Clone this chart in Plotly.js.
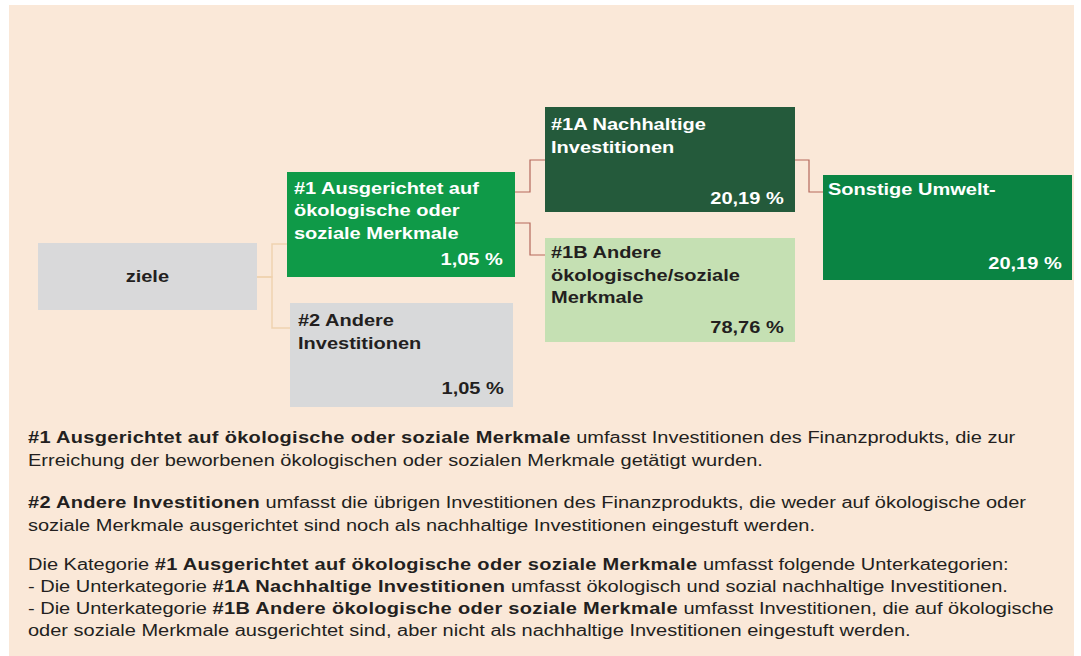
<!DOCTYPE html>
<html>
<head>
<meta charset="utf-8">
<script src="https://cdn.plot.ly/plotly-3.0.1.min.js"></script>
<style>
html,body{margin:0;padding:0;background:#ffffff;}
#chart{width:1081px;height:656px;}
</style>
</head>
<body>
<div id="chart"></div>
<script>
// ---------------- data ----------------
const nodeIds = ["root", "n1", "n2", "n1A", "n1B", "nSonst"];
const nodeLabels = [
  ["ziele"],
  ["#1 Ausgerichtet auf", "ökologische oder", "soziale Merkmale"],
  ["#2 Andere", "Investitionen"],
  ["#1A Nachhaltige", "Investitionen"],
  ["#1B Andere", "ökologische/soziale", "Merkmale"],
  ["Sonstige Umwelt-"]
];
const nodeShares = [null, 1.05, 1.05, 20.19, 78.76, 20.19];
const edgeFrom = ["root", "root", "n1", "n1", "n1A"];
const edgeTo   = ["n1", "n2", "n1A", "n1B", "nSonst"];
const noteLines = [
  "<b>#1 Ausgerichtet auf ökologische oder soziale Merkmale</b> umfasst Investitionen des Finanzprodukts, die zur",
  "Erreichung der beworbenen ökologischen oder sozialen Merkmale getätigt wurden.",
  "<b>#2 Andere Investitionen</b> umfasst die übrigen Investitionen des Finanzprodukts, die weder auf ökologische oder",
  "soziale Merkmale ausgerichtet sind noch als nachhaltige Investitionen eingestuft werden.",
  "Die Kategorie <b>#1 Ausgerichtet auf ökologische oder soziale Merkmale</b> umfasst folgende Unterkategorien:",
  "- Die Unterkategorie <b>#1A Nachhaltige Investitionen</b> umfasst ökologisch und sozial nachhaltige Investitionen.",
  "- Die Unterkategorie <b>#1B Andere ökologische oder soziale Merkmale</b> umfasst Investitionen, die auf ökologische",
  "oder soziale Merkmale ausgerichtet sind, aber nicht als nachhaltige Investitionen eingestuft werden."
];

// ---------------- layout geometry & styles ----------------
const FONT = 'Arial, "Liberation Sans", sans-serif';
const SX = 1.25;           // horizontal stretch of the source artwork
const DARK = "#231f20";
const geom = {
  root:   {x0: 38,  x1: 257,  y0: 243, y1: 310, fill: "#d9d9da", ink: DARK, center: true, tx: 147, base: 282, step: 22.5},
  n1:     {x0: 287, x1: 515,  y0: 172, y1: 277, fill: "#0f9a48", ink: "#ffffff", tx: 293,   base: 193.5, step: 22.5, px: 504,  pb: 265},
  n2:     {x0: 290, x1: 513,  y0: 303, y1: 407, fill: "#d8d9da", ink: DARK,      tx: 296.5, base: 326,   step: 22.5, px: 505,  pb: 393.5},
  n1A:    {x0: 545, x1: 795,  y0: 107, y1: 212, fill: "#245a3b", ink: "#ffffff", tx: 550,   base: 130,   step: 22.5, px: 785,  pb: 203.5},
  n1B:    {x0: 545, x1: 795,  y0: 238, y1: 342, fill: "#c5e0b3", ink: DARK,      tx: 550,   base: 258,   step: 22.7, px: 785,  pb: 332.5},
  nSonst: {x0: 823, x1: 1072, y0: 175, y1: 280, fill: "#0a8443", ink: "#ffffff", tx: 826.5, base: 195,   step: 22.5, px: 1063, pb: 268.5}
};
const edgeGeom = [
  {yA: 277, bus: 272, yB: 244, color: "#efd2b0", w: 1.5},
  {yA: 277, bus: 272, yB: 328, color: "#efd2b0", w: 1.5},
  {yA: 192, bus: 530, yB: 160, color: "#b5685b", w: 1.2},
  {yA: 223, bus: 530, yB: 255, color: "#b5685b", w: 1.2},
  {yA: 160, bus: 809, yB: 192, color: "#b5685b", w: 1.2}
];
const noteX = 27;
const noteBase = [443, 465.5, 508, 530.5, 570, 592, 613.5, 635.5];
const BASE_TO_MID = 5.5;   // baseline -> bbox middle for 16px text

function fmtPct(v) { return v.toFixed(2).replace(".", ",") + " %"; }

const shapes = [];
const annotations = [];

// background panel
shapes.push({type: "rect", xref: "x", yref: "y", x0: 9, x1: 1074, y0: 5, y1: 656,
  fillcolor: "#fae8d8", line: {width: 0}, layer: "below"});

// connectors
edgeFrom.forEach((f, i) => {
  const a = geom[f], b = geom[edgeTo[i]], e = edgeGeom[i];
  shapes.push({type: "path", xref: "x", yref: "y", layer: "below",
    path: `M${a.x1},${e.yA} H${e.bus} V${e.yB} H${b.x0}`,
    line: {color: e.color, width: e.w}});
});

// boxes and texts
nodeIds.forEach((id, i) => {
  const g = geom[id];
  shapes.push({type: "rect", xref: "x", yref: "y", layer: "below",
    x0: g.x0, x1: g.x1, y0: g.y0, y1: g.y1, fillcolor: g.fill, line: {width: 0}});
  nodeLabels[i].forEach((line, k) => {
    annotations.push({xref: "x", yref: "y", x: g.tx, y: g.base + k * g.step - BASE_TO_MID,
      xanchor: g.center ? "center" : "left", yanchor: "middle", showarrow: false,
      text: line, font: {family: FONT, size: 16, color: g.ink, weight: 700}, borderpad: 0});
  });
  if (nodeShares[i] !== null) {
    annotations.push({xref: "x", yref: "y", x: g.px, y: g.pb - BASE_TO_MID,
      xanchor: "right", yanchor: "middle", showarrow: false,
      text: fmtPct(nodeShares[i]), font: {family: FONT, size: 16, color: g.ink, weight: 700}, borderpad: 0});
  }
});

// explanatory notes
const noteStart = annotations.length;
noteLines.forEach((line, k) => {
  annotations.push({xref: "x", yref: "y", x: noteX, y: noteBase[k] - BASE_TO_MID,
    xanchor: "left", yanchor: "middle", showarrow: false, align: "left",
    text: line, font: {family: FONT, size: 16, color: DARK}, borderpad: 0});
});

// invisible hover trace through the box centres
const hoverTrace = {
  type: "scatter", mode: "markers",
  x: nodeIds.map(id => (geom[id].x0 + geom[id].x1) / 2),
  y: nodeIds.map(id => (geom[id].y0 + geom[id].y1) / 2),
  text: nodeIds.map((id, i) => nodeLabels[i].join(" ") + (nodeShares[i] !== null ? ": " + fmtPct(nodeShares[i]) : "")),
  hoverinfo: "text",
  marker: {size: 1, opacity: 0},
  showlegend: false
};

const layout = {
  width: 1081, height: 656,
  margin: {l: 0, r: 0, t: 0, b: 0, pad: 0},
  paper_bgcolor: "#ffffff", plot_bgcolor: "rgba(0,0,0,0)",
  xaxis: {range: [0, 1081], visible: false, fixedrange: true},
  yaxis: {range: [656, 0], visible: false, fixedrange: true},
  showlegend: false,
  shapes: shapes,
  annotations: annotations,
  font: {family: FONT}
};

Plotly.newPlot("chart", [hoverTrace], layout, {displayModeBar: false, responsive: false}).then(gd => {
  gd.querySelectorAll("g.annotation").forEach(g => {
    const idx = +g.getAttribute("data-index");
    const ann = gd.layout.annotations[idx];
    const t = g.querySelector("text.annotation-text");
    if (!t || !ann) return;
    const origin = ann.xanchor === "right" ? "right center" : (ann.xanchor === "center" ? "center center" : "left center");
    t.style.transformBox = "fill-box";
    t.style.transformOrigin = origin;
    t.style.transform = "scaleX(" + SX + ")";
    if (idx >= noteStart) {
      t.querySelectorAll("tspan").forEach(ts => {
        const st = ts.getAttribute("style") || "";
        if (st.indexOf("bold") >= 0) ts.style.letterSpacing = "0.25px";
      });
    }
  });
});
</script>
</body>
</html>
